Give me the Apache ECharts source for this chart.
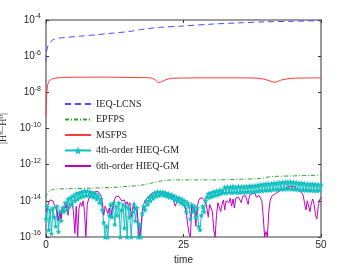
<!DOCTYPE html>
<html><head><meta charset="utf-8">
<script src="https://cdn.jsdelivr.net/npm/echarts@6/dist/echarts.min.js"></script>
<style>html,body{margin:0;padding:0;background:#fff}#c{width:354px;height:267px}</style>
</head><body><div id="c"></div>
<script>
const seriesNames = ['IEQ-LCNS','EPFPS','MSFPS','4th-order HIEQ-GM','6th-order HIEQ-GM'];
const xTicks = [0,25,50];
const yTickExps = [-16,-14,-12,-10,-8,-6,-4];

const ieqLcns = [[0,-6.3],[0.08,-5.85],[0.2,-5.6],[0.45,-5.35],[0.85,-5.2],[1.5,-5.06],[3,-4.98],[6,-4.9],[9,-4.82],[12,-4.73],[15,-4.64],[18,-4.5],[21,-4.4],[25,-4.33],[30,-4.23],[35,-4.16],[40,-4.1],[45,-4.07],[50,-4.04]];

const epfps = [[0,-13.8],[0.2,-13.6],[0.5,-13.48],[1.5,-13.36],[4,-13.33],[8,-13.3],[12,-13.26],[15,-13.2],[17,-13.15],[19,-13.03],[20.5,-12.93],[22,-12.86],[24,-12.84],[30,-12.84],[36,-12.8],[39,-12.76],[41,-12.66],[45,-12.62],[50,-12.58]];

const msfps = [[0,-9.3],[0.1,-8.3],[0.25,-7.7],[0.5,-7.4],[1,-7.27],[2,-7.2],[4,-7.17],[10,-7.16],[16,-7.18],[19,-7.2],[19.8,-7.3],[20.5,-7.45],[21,-7.42],[21.8,-7.3],[23,-7.22],[30,-7.2],[36,-7.2],[38.5,-7.22],[40,-7.3],[41.5,-7.44],[43,-7.3],[45,-7.22],[50,-7.2]];

const hieq4 = [[0,-15.0],[0.25,-14.3],[0.5,-15.6],[0.75,-14.5],[1,-15.8],[1.25,-14.4],[1.5,-14.9],[1.75,-15.4],[2,-14.3],[2.25,-15.7],[2.5,-14.6],[2.75,-15.1],[3,-14.4],
[3.25,-14.6],[3.5,-14.1],[3.75,-14.5],[4,-13.9],[4.25,-14.3],[4.5,-13.8],[4.75,-14.2],[5,-13.7],[5.25,-14.0],[5.5,-13.6],[5.75,-13.9],[6,-13.55],[6.25,-13.8],[6.5,-13.5],[6.75,-13.75],[7,-13.45],[7.25,-13.7],[7.5,-13.45],[7.75,-13.7],[8,-13.5],[8.25,-13.75],[8.5,-13.55],[8.75,-13.8],[9,-13.6],[9.25,-13.9],[9.5,-13.7],[9.75,-14.1],[10,-13.9],
[10.25,-14.5],[10.5,-15.2],[10.75,-16],[11,-15.4],[11.25,-16],[11.5,-14.8],
[11.75,-14.2],[12,-14.9],[12.25,-14.1],[12.5,-15.3],[12.75,-14.3],[13,-14.8],[13.25,-14.1],[13.5,-16],[13.75,-14.5],[14,-14.2],[14.25,-15.5],[14.5,-14.3],[14.75,-16],[15,-14.4],[15.25,-14.9],[15.5,-16],[15.75,-14.6],[16,-14.2],
[16.25,-15.1],[16.5,-14.4],[16.75,-16],[17,-15.3],[17.25,-16],[17.5,-14.7],
[17.75,-14.3],[18,-14.5],[18.25,-14.0],[18.5,-14.2],[18.75,-13.8],[19,-14.0],[19.25,-13.7],[19.5,-13.85],[19.75,-13.55],[20,-13.75],[20.25,-13.5],[20.5,-13.7],[20.75,-13.5],[21,-13.65],[21.25,-13.5],[21.5,-13.7],[21.75,-13.55],[22,-13.75],[22.25,-13.6],[22.5,-13.8],[22.75,-13.65],[23,-13.85],[23.25,-13.7],[23.5,-13.95],[23.75,-13.8],[24,-14.0],[24.25,-13.85],[24.5,-14.1],[24.75,-13.9],[25,-14.2],
[25.25,-14.0],[25.5,-14.6],[25.75,-14.1],[26,-14.3],[26.25,-15.0],[26.5,-14.2],[26.75,-14.6],[27,-14.3],[27.25,-14.9],[27.5,-14.4],[27.75,-15.4],[28,-15.6],[28.25,-14.8],[28.5,-14.3],[28.75,-14.6],[29,-14.0],
[29.25,-13.8],[29.5,-13.6],[29.75,-13.8],[30,-13.55],[30.25,-13.75],[30.5,-13.5],[30.75,-13.7],[31,-13.45],[31.25,-13.65],[31.5,-13.42],[31.75,-13.6],
[32,-13.4],[32.25,-13.55],[32.5,-13.25],[32.75,-13.55],[33,-13.22],[33.25,-13.52],[33.5,-13.24],[33.75,-13.55],[34,-13.2],[34.25,-13.52],[34.5,-13.23],[34.75,-13.54],[35,-13.2],[35.25,-13.53],[35.5,-13.22],[35.75,-13.5],[36,-13.2],[36.25,-13.52],[36.5,-13.2],[36.75,-13.5],[37,-13.18],[37.25,-13.5],[37.5,-13.17],[37.75,-13.48],[38,-13.15],[38.25,-13.47],[38.5,-13.13],[38.75,-13.45],[39,-13.1],[39.25,-13.44],[39.5,-13.08],[39.75,-13.42],[40,-13.06],[40.25,-13.4],[40.5,-13.05],[40.75,-13.4],[41,-13.04],[41.25,-13.38],[41.5,-13.02],[41.75,-13.37],[42,-13.0],[42.25,-13.36],[42.5,-12.98],[42.75,-13.35],[43,-12.97],[43.25,-13.34],[43.5,-12.96],[43.75,-13.34],[44,-12.95],[44.25,-13.33],[44.5,-12.95],[44.75,-13.34],[45,-12.97],[45.25,-13.36],[45.5,-12.99],[45.75,-13.37],[46,-13.0],[46.25,-13.38],[46.5,-13.02],[46.75,-13.4],[47,-13.04],[47.25,-13.4],[47.5,-13.05],[47.75,-13.42],[48,-13.06],[48.25,-13.42],[48.5,-13.07],[48.75,-13.43],[49,-13.08],[49.25,-13.43],[49.5,-13.1],[49.75,-13.42],[50,-13.1]];

const hieq6 = [[0,-14.6],[0.25,-14.3],[0.5,-14.1],[0.75,-13.95],[1,-13.9],[1.25,-14.0],[1.5,-14.1],[1.75,-14.4],[2,-14.6],
[2.25,-15.1],[2.5,-14.5],[2.75,-15.0],[3,-14.3],
[3.25,-14.2],[3.5,-14.4],[3.75,-14.15],[4,-14.8],[4.25,-14.2],[4.5,-14.3],[4.75,-14.15],[5,-14.6],[5.25,-15.8],[5.5,-14.3],[5.75,-16],[6,-14.4],
[6.25,-14.1],[6.5,-14.3],[6.75,-14.0],[7,-14.6],[7.25,-16],[7.5,-14.2],[7.75,-13.9],[8,-13.75],[8.25,-13.65],[8.5,-13.55],[8.75,-13.5],[9,-13.48],[9.25,-13.45],[9.5,-13.5],[9.75,-13.55],[10,-13.7],
[10.25,-14.1],[10.5,-14.8],[10.75,-14.3],[11,-14.5],
[11.25,-14.7],[11.5,-14.4],[11.75,-14.9],[12,-14.5],[12.25,-14.2],
[12.5,-13.9],[12.75,-13.75],[13,-13.7],[13.25,-13.75],[13.5,-13.85],
[13.75,-14.0],[14,-14.1],[14.25,-13.95],[14.5,-14.2],[14.75,-14.05],[15,-14.3],[15.25,-14.1],[15.5,-14.9],[15.75,-14.4],[16,-14.1],
[16.25,-14.5],[16.5,-14.3],[16.75,-15.2],[17,-16],[17.25,-15.5],[17.5,-14.6],
[17.75,-14.2],[18,-14.0],[18.25,-13.9],[18.5,-13.8],[18.75,-13.75],[19,-13.65],[19.25,-13.6],[19.5,-13.55],[19.75,-13.5],[20,-13.5],[20.25,-13.48],[20.5,-13.5],[20.75,-13.52],[21,-13.55],[21.25,-13.6],[21.5,-13.58],[21.75,-13.62],[22,-13.65],[22.25,-13.7],[22.5,-13.72],[22.75,-13.75],[23,-13.8],[23.25,-13.85],[23.5,-14.3],[23.75,-14.4],[24,-13.9],[24.25,-14.0],[24.5,-14.05],[24.75,-14.1],[25,-14.15],
[25.25,-14.2],[25.5,-14.6],[25.75,-15.3],[26,-15.8],[26.25,-16],[26.5,-14.3],
[26.75,-14.2],[27,-14.5],[27.25,-15.4],[27.5,-14.3],[27.75,-14.0],[28,-13.85],[28.25,-13.8],[28.5,-13.85],[28.75,-13.9],
[29,-14.0],[29.25,-14.4],[29.5,-14.9],[29.75,-14.2],[30,-14.1],[30.25,-14.6],[30.5,-15.6],[30.75,-16],[31,-14.8],[31.25,-14.1],[31.5,-14.0],[31.75,-14.6],[32,-14.2],[32.25,-13.95],[32.5,-14.5],[32.75,-14.0],[33,-13.9],[33.25,-14.1],[33.5,-13.85],[33.75,-14.3],
[34,-13.9],[34.25,-14.4],[34.5,-13.85],[34.75,-13.75],[35,-13.8],[35.25,-13.7],[35.5,-14.1],[35.75,-13.75],[36,-13.65],[36.25,-13.7],[36.5,-13.6],[36.75,-14.2],[37,-13.7],[37.25,-13.65],[37.5,-13.6],[37.75,-13.65],[38,-13.6],[38.25,-13.8],[38.5,-13.9],[38.75,-13.7],[39,-13.75],
[39.25,-14.0],[39.5,-14.9],[39.75,-16],[40,-15.7],[40.25,-16],[40.5,-14.6],[40.75,-14.0],[41,-13.75],
[41.25,-13.7],[41.5,-13.65],[41.75,-13.6],[42,-13.55],[42.25,-13.5],[42.5,-13.45],[42.75,-13.4],[43,-13.38],[43.25,-13.35],[43.5,-13.3],[43.75,-13.3],[44,-13.25],[44.25,-13.22],[44.5,-13.2],[44.75,-13.2],[45,-13.22],[45.25,-13.25],[45.5,-13.3],[45.75,-13.4],[46,-13.45],[46.25,-13.5],[46.5,-13.55],[46.75,-13.7],[47,-14.1],[47.25,-14.5],[47.5,-14.0],[47.75,-14.3],[48,-14.6],[48.25,-14.1],[48.5,-13.9],[48.75,-14.2],[49,-14.8],[49.25,-15.0],[49.5,-14.3],[49.75,-13.95],[50,-13.8]];

const toVal = arr => arr.map(p => [p[0], Math.pow(10, p[1])]);
const star = 'path://M0,-10 L2.35,-3.24 L9.51,-3.09 L3.8,1.24 L5.88,8.09 L0,4 L-5.88,8.09 L-3.8,1.24 L-9.51,-3.09 L-2.35,-3.24 Z';

const chart = echarts.init(document.getElementById('c'), null, {renderer:'canvas'});
const axisGray = '#7f7f7f';
const txt = '#262626';
const sans = 'Liberation Sans, Arial, sans-serif';
const serif = 'Liberation Serif, Times New Roman, serif';
const hideSym = {opacity:0};
chart.setOption({
  animation:false,
  backgroundColor:'#fff',
  grid:{left:46,right:33,top:20,bottom:30, containLabel:false, outerBoundsMode:'none'},
  legend:{
    orient:'vertical', left:59, top:94, itemWidth:26, itemHeight:10, itemGap:5.5,
    data:[
      {name:seriesNames[0], itemStyle:hideSym},
      {name:seriesNames[1], itemStyle:hideSym},
      {name:seriesNames[2], itemStyle:hideSym},
      {name:seriesNames[3]},
      {name:seriesNames[4], itemStyle:hideSym}
    ],
    textStyle:{fontFamily:serif, fontSize:10, color:txt}
  },
  xAxis:[{
    type:'value', min:0, max:50, interval:25, position:'bottom',
    name:'time', nameLocation:'middle', nameGap:11,
    nameTextStyle:{fontFamily:sans, fontSize:10, color:txt},
    axisLine:{onZero:false, lineStyle:{color:axisGray, width:1.6}},
    axisTick:{inside:true, length:3, lineStyle:{color:'#333'}},
    axisLabel:{fontFamily:sans, fontSize:10, color:txt, margin:3, formatter:v => xTicks.includes(v) ? String(v) : ''},
    splitLine:{show:false}
  },{
    type:'value', min:0, max:50, interval:25, position:'top',
    axisLine:{onZero:false, lineStyle:{color:axisGray, width:1.6}},
    axisTick:{inside:true, length:3, lineStyle:{color:'#333'}},
    axisLabel:{show:false}, splitLine:{show:false}
  }],
  yAxis:[{
    type:'log', logBase:10, min:1e-16, max:1e-4, interval:2, position:'left',
    name:'{a||H}{s|n}{a|\u2212H}{s|0}{a||}', nameLocation:'middle', nameGap:30, nameRotate:90,
    nameTextStyle:{rich:{a:{fontFamily:serif, fontSize:10, color:txt}, s:{fontFamily:serif, fontSize:7, color:txt, padding:[0,0,6,0]}}},
    axisLine:{onZero:false, lineStyle:{color:axisGray, width:1.6}},
    axisTick:{inside:true, length:3, lineStyle:{color:'#333'}},
    minorTick:{show:false},
    axisLabel:{margin:5, formatter:v => {
      const e = Math.round(Math.log10(v));
      return yTickExps.includes(e) ? '{b|10}{s|' + e + '}' : '';
    }, rich:{b:{fontFamily:sans, fontSize:10, color:txt}, s:{fontFamily:sans, fontSize:7, color:txt, padding:[0,0,7,0]}}},
    splitLine:{show:false}
  },{
    type:'log', logBase:10, min:1e-16, max:1e-4, interval:2, position:'right',
    axisLine:{onZero:false, lineStyle:{color:axisGray, width:1.6}},
    axisTick:{inside:true, length:3, lineStyle:{color:'#333'}},
    axisLabel:{show:false}, splitLine:{show:false}
  }],
  series:[
    {name:seriesNames[0], type:'line', data:toVal(ieqLcns), showSymbol:false, symbol:'none', smooth:0.3,
     lineStyle:{color:'#4a4aff', width:1, type:[6,4]}, itemStyle:{color:'#4a4aff'}},
    {name:seriesNames[1], type:'line', data:toVal(epfps), showSymbol:false, symbol:'none', smooth:0.3,
     lineStyle:{color:'#2ea02e', width:1, type:[4,2,1,2]}, itemStyle:{color:'#2ea02e'}},
    {name:seriesNames[2], type:'line', data:toVal(msfps), showSymbol:false, symbol:'none', smooth:0.3,
     lineStyle:{color:'#ff3b3b', width:1}, itemStyle:{color:'#ff3b3b'}},
    {name:seriesNames[3], type:'line', data:toVal(hieq4), symbol:star, symbolSize:6, showSymbol:true,
     lineStyle:{color:'#10c0c0', width:1}, itemStyle:{color:'#10c0c0', borderColor:'#10c0c0', borderWidth:0}},
    {name:seriesNames[4], type:'line', data:toVal(hieq6), showSymbol:false, symbol:'none',
     lineStyle:{color:'#c000c0', width:1}, itemStyle:{color:'#c000c0'}}
  ]
});
</script></body></html>
